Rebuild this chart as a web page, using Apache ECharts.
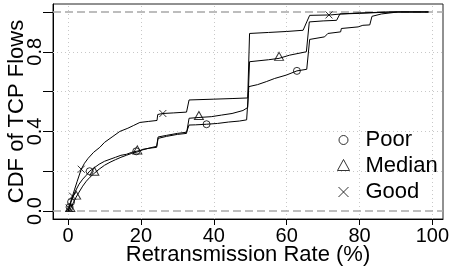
<!DOCTYPE html>
<html><head><meta charset="utf-8">
<script src="https://cdn.jsdelivr.net/npm/echarts@6/dist/echarts.min.js"></script>
<style>html,body{margin:0;padding:0;background:#fff}#c{width:451px;height:267px}</style>
</head><body><div id="c"></div>
<script>
// ---- axis / tick data ----
const xTickValues = [0, 20, 40, 60, 80, 100];
const yTickValues = [0, 0.2, 0.4, 0.6, 0.8, 1.0];
const yLabelValues = [0, 0.4, 0.8];
const gridXValues = [0, 20, 40, 60, 80, 100];
const gridYValues = [0.2, 0.4, 0.6, 0.8];
const refYValues = [0, 1];
const seriesNames = ['Poor', 'Median', 'Good'];

// ---- CDF curves (retransmission rate %, cumulative fraction) ----
const poorX = [0,0.2,0.5,0.8,1.3,2,3,4,5,5.9,7,8.5,10,11.5,13,14.5,16,17.5,18.7,20,22,24.3,24.7,27,30,32.5,33.2,35,38,41,44,47,49,49.6,52,54.4,56.7,59.9,62.8,65.5,66.3,70.4,71.3,74.8,75,79.6,80.9,82.8,83.4,86,90.6,98.9];
const poorY = [0,0.01,0.025,0.045,0.07,0.1,0.135,0.16,0.18,0.2,0.215,0.235,0.25,0.26,0.27,0.28,0.285,0.295,0.3,0.305,0.315,0.325,0.372,0.38,0.39,0.396,0.432,0.433,0.436,0.44,0.447,0.452,0.458,0.625,0.635,0.65,0.666,0.683,0.704,0.712,0.862,0.875,0.892,0.9,0.917,0.925,0.933,0.935,0.978,0.99,1,1];

const medianX = [0,0.3,0.6,1,1.5,2.2,3,4,5,6,7.2,8.5,10,11.5,13,14.5,16,17.5,19,20.5,22.5,24.3,24.7,27,30,32.5,33.2,35.9,39.3,42.1,45,48,49.3,49.8,55,57.9,60.8,65.4,66.2,70,73.7,74.6,80,88,98.9];
const medianY = [0,0.003,0.008,0.025,0.045,0.07,0.095,0.125,0.15,0.17,0.19,0.21,0.23,0.245,0.258,0.27,0.28,0.29,0.297,0.31,0.316,0.32,0.365,0.375,0.385,0.39,0.466,0.47,0.474,0.482,0.49,0.505,0.52,0.75,0.76,0.767,0.783,0.8,0.95,0.955,0.958,0.99,0.995,1,1];

const goodX = [0,0.3,0.6,0.9,1.2,1.8,2.5,3.6,4.5,5.5,7,8.7,10,12.3,14.2,16.4,18,19.7,22,24.4,24.6,26,29,32.5,33.2,40,45,49.3,49.8,55,60,64.5,65.5,66.3,72,75,80,85,90,98.9];
const goodY = [0,0.015,0.04,0.06,0.075,0.11,0.15,0.21,0.24,0.265,0.295,0.32,0.345,0.375,0.4,0.416,0.43,0.445,0.45,0.455,0.485,0.49,0.493,0.497,0.558,0.562,0.565,0.568,0.892,0.897,0.902,0.908,0.95,0.983,0.985,0.99,0.993,0.997,1,1];

// ---- marker positions on the curves ----
const poorMarkX = [0.4, 0.8, 5.9, 18.7, 38, 62.8];
const poorMarkY = [0.02, 0.045, 0.2, 0.3, 0.436, 0.704];
const medianMarkX = [0.6, 2.2, 7.2, 19, 35.9, 57.9];
const medianMarkY = [0.008, 0.07, 0.19, 0.297, 0.47, 0.767];
const goodMarkX = [0.3, 1.2, 3.6, 26, 71.6];
const goodMarkY = [0.015, 0.075, 0.21, 0.49, 0.985];

const zip = (xs, ys) => xs.map((x, i) => [x, ys[i]]);

const FONT = "'Liberation Sans', Arial, Helvetica, sans-serif";
const dotted = { color: '#c8c8c8', width: 1, type: [1, 3] };
const dashed = { color: '#a8a8a8', width: 1.5, type: [8, 4] };

const ICON_CIRCLE = 'path://M-10,-10M10,10M-4.5,0A4.5,4.5,0,1,1,4.5,0A4.5,4.5,0,1,1,-4.5,0Z';
const ICON_TRI = 'path://M-10,-10M10,10M0,-6.5L6,4.5L-6,4.5Z';
const ICON_X = 'path://M-10,-10M10,10M-5,-5L5,5M5,-5L-5,5';
const SYM_X = 'path://M0,0L1,1M1,0L0,1';

const markerStyle = { color: 'rgba(0,0,0,0)', borderColor: '#000', borderWidth: 1 };
const lineBase = { type: 'line', showSymbol: false, symbol: 'none', silent: true, z: 2,
  lineStyle: { color: '#000', width: 1 }, emphasis: { disabled: true } };

const chart = echarts.init(document.getElementById('c'), null, { renderer: 'canvas' });
chart.setOption({
  animation: false,
  backgroundColor: '#fff',
  grid: { left: 53, top: 4, width: 390, height: 215, show: true, borderColor: '#222', borderWidth: 1,
    containLabel: false, outerBoundsMode: 'none' },
  xAxis: {
    type: 'value', min: -4.15, max: 102.9,
    name: 'Retransmission Rate (%)', nameLocation: 'middle', nameGap: 25, nameMoveOverlap: false,
    nameTextStyle: { fontSize: 22, lineHeight: 22, color: '#000', fontFamily: FONT },
    axisLine: { show: true, onZero: false, lineStyle: { color: '#000', width: 1 } },
    axisTick: { show: true, length: 6, customValues: xTickValues, lineStyle: { color: '#000' } },
    axisLabel: { show: true, customValues: xTickValues, fontSize: 20, lineHeight: 20, margin: 7, color: '#000', fontFamily: FONT },
    splitLine: { show: false }
  },
  yAxis: {
    type: 'value', min: -0.04, max: 1.04,
    name: 'CDF of TCP Flows', nameLocation: 'middle', nameGap: 25.3, nameRotate: 90, nameMoveOverlap: false,
    nameTextStyle: { fontSize: 22, lineHeight: 22, color: '#000', fontFamily: FONT },
    axisLine: { show: true, onZero: false, lineStyle: { color: '#000', width: 1 } },
    axisTick: { show: true, length: 10, customValues: yTickValues, lineStyle: { color: '#000' } },
    axisLabel: { show: true, customValues: yLabelValues, rotate: 90, fontSize: 20, lineHeight: 20, margin: 8,
      color: '#000', fontFamily: FONT, formatter: v => v.toFixed(1) },
    splitLine: { show: false }
  },
  legend: {
    orient: 'vertical', left: 333, top: 127, padding: 0,
    itemWidth: 34, itemHeight: 20, itemGap: 0, selectedMode: false,
    textStyle: { fontSize: 22, lineHeight: 26, color: '#000', fontFamily: FONT },
    itemStyle: { color: 'rgba(0,0,0,0)', borderColor: '#000', borderWidth: 1 },
    data: [
      { name: seriesNames[0], icon: ICON_CIRCLE },
      { name: seriesNames[1], icon: ICON_TRI },
      { name: seriesNames[2], icon: ICON_X }
    ]
  },
  series: [
    Object.assign({}, lineBase, {
      name: 'PoorCDF', data: zip(poorX, poorY),
      markLine: {
        silent: true, z: 1, symbol: ['none', 'none'], label: { show: false }, emphasis: { disabled: true },
        data: [
          ...gridXValues.map(v => ({ xAxis: v, lineStyle: dotted })),
          ...gridYValues.map(v => ({ yAxis: v, lineStyle: dotted })),
          ...refYValues.map(v => ({ yAxis: v, lineStyle: dashed }))
        ]
      }
    }),
    Object.assign({}, lineBase, { name: 'MedianCDF', data: zip(medianX, medianY) }),
    Object.assign({}, lineBase, { name: 'GoodCDF', data: zip(goodX, goodY) }),
    { type: 'scatter', name: seriesNames[0], z: 3, silent: true, symbol: 'circle', symbolSize: 7,
      itemStyle: markerStyle, data: zip(poorMarkX, poorMarkY) },
    { type: 'scatter', name: seriesNames[1], z: 3, silent: true, symbol: 'triangle', symbolSize: [9, 8], symbolOffset: [0, -2],
      itemStyle: markerStyle, data: zip(medianMarkX, medianMarkY) },
    { type: 'scatter', name: seriesNames[2], z: 3, silent: true, symbol: SYM_X, symbolSize: 7,
      itemStyle: markerStyle, data: zip(goodMarkX, goodMarkY) }
  ]
});
</script>
</body></html>
